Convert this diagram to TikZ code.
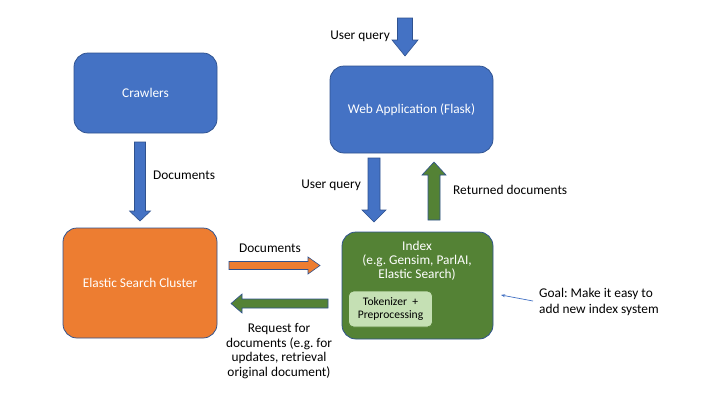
\documentclass[tikz,border=0pt]{standalone}
\usepackage{fontspec}
\setmainfont{Carlito}
\usetikzlibrary{arrows.meta}
\frenchspacing
\definecolor{ofBlue}{HTML}{4472C4}
\definecolor{ofLine}{HTML}{2F528F}
\definecolor{ofOrange}{HTML}{ED7D31}
\definecolor{ofGreen}{HTML}{548235}
\definecolor{ofLight}{HTML}{C5E0B4}
% vertical block arrow: #1 colour, #2 centre x, #3 tail y, #4 head base y, #5 tip y, #6 shaft half, #7 head half
\newcommand{\vblock}[7]{%
  \filldraw[fill=#1, draw=ofLine, line width=0.6bp]
    (#2-#6,#3) -- (#2+#6,#3) -- (#2+#6,#4) -- (#2+#7,#4) -- (#2,#5)
    -- (#2-#7,#4) -- (#2-#6,#4) -- cycle;}
% horizontal block arrow: #1 colour, #2 centre y, #3 tail x, #4 head base x, #5 tip x, #6 shaft half, #7 head half
\newcommand{\hblock}[7]{%
  \filldraw[fill=#1, draw=ofLine, line width=0.6bp]
    (#3,#2-#6) -- (#4,#2-#6) -- (#4,#2-#7) -- (#5,#2) -- (#4,#2+#7)
    -- (#4,#2+#6) -- (#3,#2+#6) -- cycle;}
\begin{document}
\begin{tikzpicture}[x=1bp,y=-1bp,
  box/.style={draw=ofLine, line width=0.75bp, rounded corners=14bp, text=white,
    align=center, inner sep=0pt, font=\fontsize{13.4}{14}\selectfont},
  lbl/.style={inner sep=0pt, align=center, font=\fontsize{13.4}{14.6}\selectfont}]
\useasboundingbox (0,0) rectangle (720,405);
\fill[white] (0,0) rectangle (720,405);

% boxes
\node[box, fill=ofBlue, minimum width=143bp, minimum height=80bp] (crawl) at (145.5,93) {Crawlers};
\node[box, fill=ofBlue, minimum width=163bp, minimum height=87bp] (web) at (411.5,109.5) {Web Application (Flask)};
\node[box, fill=ofOrange, minimum width=154bp, minimum height=110bp] (es) at (140,283) {Elastic Search Cluster};
\node[box, fill=ofGreen, minimum width=151bp, minimum height=107bp] (index) at (417.5,285.5) {};
\node[lbl, text=white, font=\fontsize{13.4}{14}\selectfont] (indextxt) at (417,261) {Index\\(e.g. Gensim, ParlAI,\\Elastic Search)};
\node[draw=ofGreen, line width=0.75bp, fill=ofLight, rounded corners=5bp, minimum width=84bp,
  minimum height=36bp, inner sep=0pt, align=center, font=\fontsize{11.6}{12.5}\selectfont] (tok) at (390.5,309) {Tokenizer\ \ +\\Preprocessing};

% block arrows
\vblock{ofBlue}{405}{18}{40}{56}{7.5}{13}
\vblock{ofBlue}{140}{142}{211}{221}{5.5}{10.5}
\vblock{ofBlue}{374}{158}{210}{222}{6}{12}
\vblock{ofGreen}{434}{220}{175}{162}{6}{12}
\hblock{ofOrange}{265.5}{229}{308}{320}{4}{8.5}
\hblock{ofGreen}{303.5}{328}{242}{231}{4.5}{9.5}

% labels
\node[lbl, anchor=east] (uq1) at (390,36) {User query};
\node[lbl, anchor=west] (docs1) at (153,175) {Documents};
\node[lbl, anchor=east] (uq2) at (361,185) {User query};
\node[lbl, anchor=west] (ret) at (453,190) {Returned documents};
\node[lbl] (docs2) at (270,248) {Documents};
\node[lbl] (req) at (279,351) {Request for\\documents (e.g. for\\updates, retrieval\\original document)};
\node[lbl, anchor=west, align=left, font=\fontsize{13.4}{16}\selectfont] (goal) at (539,302) {Goal: Make it easy to\\add new index system};

% goal pointer
\coordinate (gtail) at (533,301);
\coordinate (gtip) at (501,295);
\draw[ofBlue, line width=0.7bp, -{Stealth[length=4bp,width=3bp]}] (gtail) -- (gtip);
\end{tikzpicture}
\end{document}
